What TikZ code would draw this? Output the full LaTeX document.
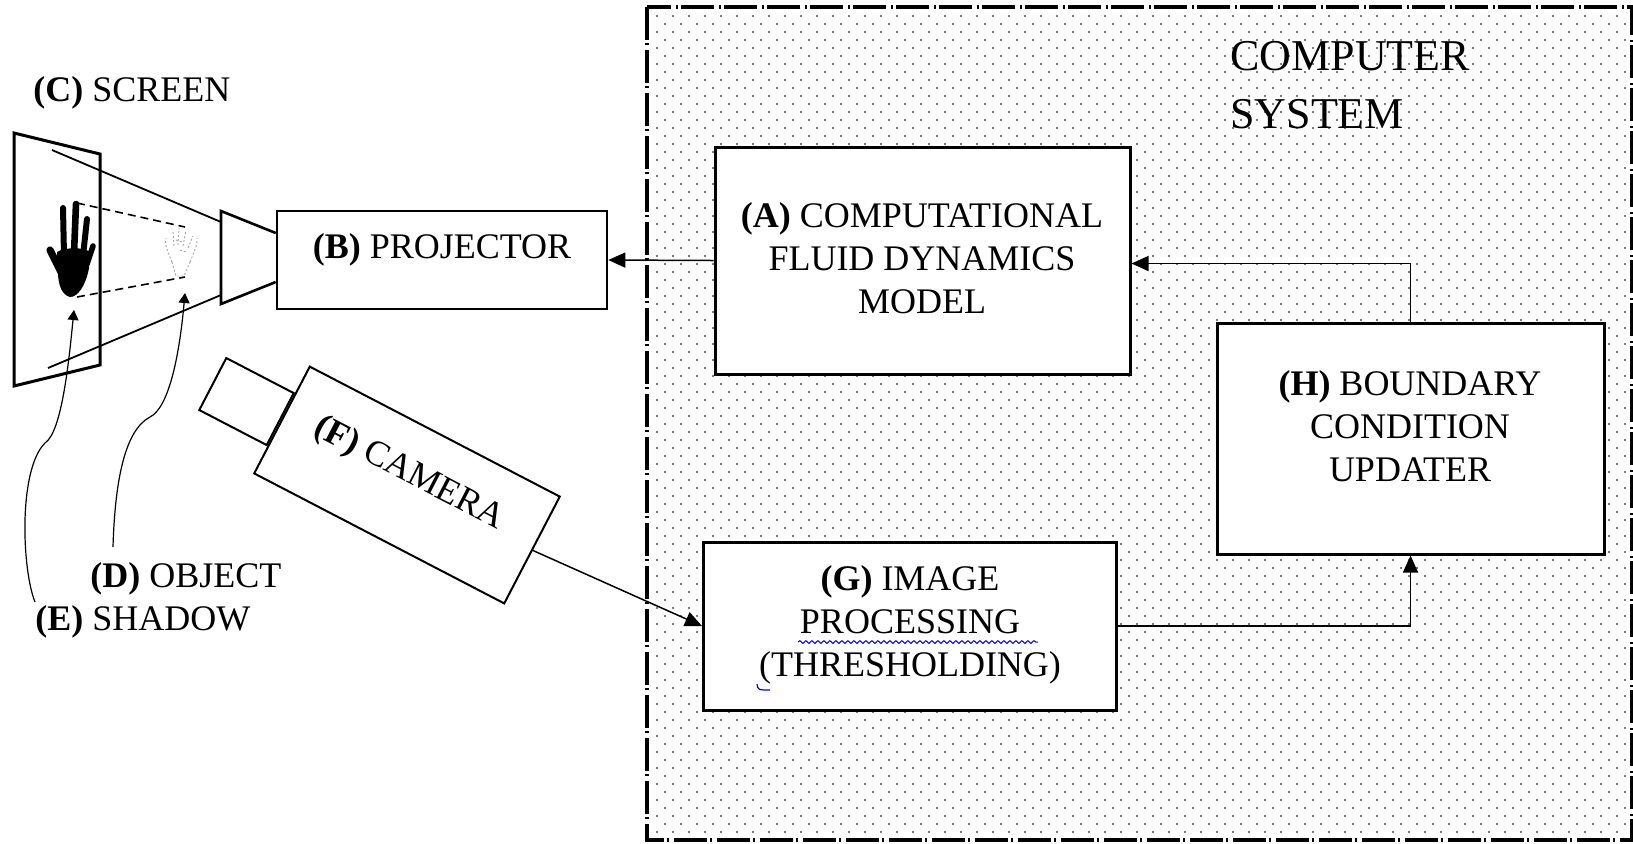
\documentclass[tikz,border=0pt]{standalone}
\usepackage{fontspec}
\setmainfont{Liberation Serif}
\usetikzlibrary{arrows.meta,decorations.pathmorphing}
\definecolor{dotc}{RGB}{80,80,80}
\tikzset{
  box/.style={draw=black, line width=1.5pt, fill=white, inner sep=0pt},
  lbl/.style={inner sep=0pt, align=center, font=\fontsize{18}{21.5}\selectfont},
  arr/.style={line width=0.75pt, -{Triangle[length=8.5pt,width=7.5pt]}},
  uparr/.style={line width=0.6pt, -{Triangle[length=5pt,width=5.5pt]}},
  sysborder/.style={line width=1.7pt, dash pattern=on 16.5pt off 1.5pt on 1pt off 2.5pt},
  camline/.style={draw=black, line width=1pt, fill=white, inner sep=0pt},
  projline/.style={line width=0.9pt},
  shadowline/.style={line width=0.8pt, dash pattern=on 4pt off 2.5pt},
  plain/.style={inner sep=0pt, font=\fontsize{18}{21.5}\selectfont},
}
\begin{document}
\begin{tikzpicture}[x=0.5pt,y=-0.5pt]
\useasboundingbox (0,0) rectangle (1633,843);
% ---- computer system area: dots ----
\foreach \r in {0,...,102}{
  \pgfmathsetmacro\yy{16+8*\r}
  \pgfmathsetmacro\xo{657+8*mod(\r,2)}
  \foreach \c in {0,...,60}{
    \fill[dotc] (\xo+16*\c,\yy) circle[radius=0.55pt];
  }
}
\draw[sysborder] (647,7) rectangle (1632,840);
\node[anchor=base west, inner sep=0pt, align=left,
      font=\fontsize{22}{29}\selectfont] (sys) at (1230,128) {COMPUTER\\SYSTEM};

% ---- boxes ----
\node[box, minimum width=207.5pt, minimum height=113.5pt] (A) at (922.5,260.5) {};
\node[lbl] (At) at (922,258) {\textbf{(A)} COMPUTATIONAL\\FLUID DYNAMICS\\MODEL};

\node[box, minimum width=193.5pt, minimum height=115.5pt] (H) at (1410.5,438.5) {};
\node[lbl] (Ht) at (1410,426) {\textbf{(H)} BOUNDARY\\CONDITION\\UPDATER};

\node[box, minimum width=206.5pt, minimum height=84pt] (G) at (910,626) {};
\node[lbl] (Gt) at (910,625) {\textbf{(G)} IMAGE\\PROCESSING\\(THRESHOLDING)};

\node[box, line width=1.3pt, minimum width=165pt, minimum height=49pt] (B) at (442,260) {};
\node[lbl] (Bt) at (442,250) {\textbf{(B)} PROJECTOR};

% spell-check squiggles
\draw[blue, line width=0.5pt, decorate,
      decoration={snake, amplitude=0.7pt, segment length=3pt}] (798,642) -- (1038,642);
\draw[blue, line width=0.6pt] (757,684) .. controls (758,690) .. (770,690);

% ---- connectors in system ----
\draw[arr] (A.west) -- (B.east);
\draw[arr] (H.north) |- ([yshift=-1.5pt]A.east);
\draw[arr] (G.east) -| (H.south);

% ---- projector lens ----
\coordinate (LT) at (221,211);
\coordinate (LB) at (221,304);
\coordinate (LpT) at (221,222);
\coordinate (LpB) at (221,295);
\draw[line width=1.3pt, line join=miter] ([yshift=13.5pt]B.west) -- (LT) -- (LB) -- ([yshift=-11pt]B.west);

% ---- screen ----
\draw[line width=1.5pt, line join=miter] (14,133) -- (100,154) -- (100,365) -- (14,386) -- cycle;
\node[plain, anchor=base west] (C) at (33,101) {\textbf{(C)} SCREEN};

% projection lines
\coordinate (ST) at (52,150);
\coordinate (SB) at (48,368);
\draw[projline] (LpT) -- (ST);
\draw[projline] (LpB) -- (SB);

% ---- shadow hand ----
\begin{scope}
\fill[black] (57,252) .. controls (65,247) and (84,247) .. (90,252)
  -- (89,268) .. controls (86,285) and (78,297) .. (70,297)
  .. controls (62,295) and (58,285) .. (58,272) -- cycle;
\draw[black, line width=3pt, line cap=round] (64,255) -- (63,208);
\draw[black, line width=3.3pt, line cap=round] (74,254) -- (76,204);
\draw[black, line width=3pt, line cap=round] (83,256) -- (87,219);
\draw[black, line width=2.8pt, line cap=round] (87,264) -- (93,246);
\draw[black, line width=3.6pt, line cap=round] (62,274) -- (50,250);
\end{scope}
\coordinate (HT) at (77,203);
\coordinate (HB) at (77,297);

% ---- object (ghost) hand ----
\begin{scope}[gray!70, line width=0.45pt, dash pattern=on 1pt off 1pt]
\draw (172,262) .. controls (168,252) and (164,244) .. (166,238);
\draw (172,262) -- (176,276) -- (184,276) -- (190,262);
\draw (190,262) .. controls (194,252) and (198,244) .. (197,238);
\draw (174,246) -- (173,231) (178,245) -- (179,228) (183,246) -- (186,230) (188,248) -- (193,236);
\draw (176,240) -- (182,242) (180,250) -- (186,252);
\end{scope}
\coordinate (OT) at (185,227);
\coordinate (OB) at (185,277);
\draw[shadowline] (HT) -- (OT);
\draw[shadowline] (HB) -- (OB);

% ---- labels D and E with curved pointers ----
\node[plain, anchor=base west] (D) at (90,587) {\textbf{(D)} OBJECT};
\node[plain, anchor=base west] (E) at (35,630) {\textbf{(E)} SHADOW};
\coordinate (Dstart) at (113,547);
\coordinate (Dmid) at (150,417);
\coordinate (Dtip) at (185,293);
\coordinate (Estart) at (35,602);
\coordinate (Emid) at (45,443);
\coordinate (Etip) at (74,310);
\draw[uparr] (Dstart) .. controls (115,480) and (125,430) .. (Dmid)
   .. controls (168,408) and (179,360) .. (Dtip);
\draw[uparr] (Estart) .. controls (22,570) and (18,470) .. (Emid)
   .. controls (62,432) and (69,360) .. (Etip);

% ---- camera ----
\node[camline, rotate=-27.47, minimum width=140.9pt, minimum height=60.2pt] (F) at (407,485) {};
\node[camline, rotate=-27.47, minimum width=38pt, minimum height=29.3pt, anchor=east] (Fe) at (F.west) {};
\node[plain, rotate=-27.47] (Ft) at (409,474) {\textbf{(F)} CAMERA};
\draw[arr] (F.east) -- (G.west);
\end{tikzpicture}
\end{document}
